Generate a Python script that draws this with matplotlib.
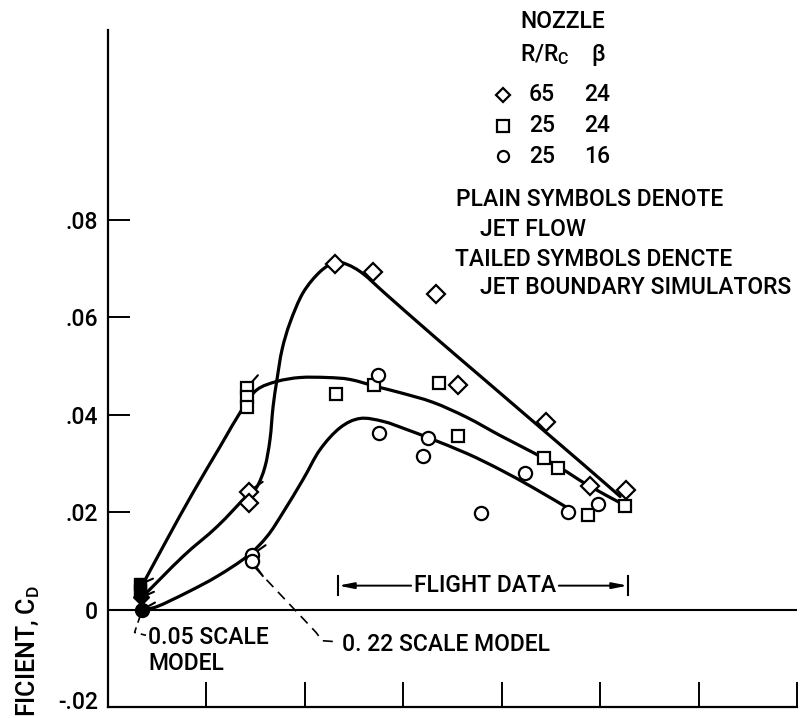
"""Drag coefficient vs. (unlabelled) abscissa - nozzle comparison, flight vs. scale models."""
import matplotlib
matplotlib.use("Agg")
import matplotlib.pyplot as plt
from matplotlib.path import Path
from matplotlib.patches import PathPatch
from matplotlib.transforms import ScaledTranslation

FONT = ["Roboto", "DejaVu Sans"]
plt.rcParams["font.family"] = FONT
plt.rcParams["font.weight"] = "medium"
plt.rcParams["mathtext.fontset"] = "custom"
plt.rcParams["mathtext.rm"] = "Roboto:medium"
plt.rcParams["mathtext.it"] = "Roboto:medium"
FS = 16.5

# ---- data ----
# jet-flow points (plain symbols)
dia_x = [2.31, 2.69, 3.33, 3.56, 4.45, 4.90, 5.26]
dia_y = [0.0708, 0.0693, 0.0648, 0.0460, 0.0384, 0.0254, 0.0246]
sq_x = [2.32, 2.70, 3.36, 3.56, 4.43, 4.57, 4.88, 5.25]
sq_y = [0.0443, 0.0460, 0.0464, 0.0355, 0.0310, 0.0291, 0.0193, 0.0213]
circ_x = [2.74, 2.75, 3.25, 3.20, 3.79, 4.24, 4.67, 4.98]
circ_y = [0.0482, 0.0363, 0.0351, 0.0316, 0.0199, 0.0281, 0.0201, 0.0217]

# jet boundary simulators (tailed symbols), 0.22 scale model
dia22_x = [1.43, 1.43]
dia22_y = [0.0242, 0.0219]
sq22_x = [1.41, 1.41, 1.41]
sq22_y = [0.0455, 0.0437, 0.0416]
circ22_x = [1.46, 1.46]
circ22_y = [0.0112, 0.0100]

# 0.05 scale model (filled, tailed)
dia05_x = [0.34]
dia05_y = [0.0025]
sq05_x = [0.33, 0.33]
sq05_y = [0.0052, 0.0040]
circ05_x = [0.35]
circ05_y = [0.0]

# faired curves
dia_curve_x = [0.356, 0.762, 1.108, 1.423, 1.514, 1.595, 1.646, 1.677, 1.717, 1.768,
               1.850, 1.982, 2.154, 2.307, 2.429, 2.591, 2.835, 3.303, 3.811, 4.319,
               4.827, 5.203]
dia_curve_y = [0.0027, 0.0109, 0.0170, 0.0236, 0.0252, 0.0293, 0.0349, 0.0416, 0.0472, 0.0533,
               0.0589, 0.0650, 0.0693, 0.0712, 0.0708, 0.0689, 0.0645, 0.0562, 0.0474, 0.0386,
               0.0298, 0.0232]
sq_curve_x = [0.335, 0.600, 0.864, 1.138, 1.372, 1.514, 1.717, 1.951, 2.226, 2.459,
              2.734, 2.967, 3.303, 3.648, 3.984, 4.319, 4.593, 4.868, 5.203]
sq_curve_y = [0.0045, 0.0144, 0.0240, 0.0334, 0.0414, 0.0451, 0.0468, 0.0476, 0.0476, 0.0472,
              0.0457, 0.0445, 0.0425, 0.0394, 0.0357, 0.0322, 0.0291, 0.0256, 0.0219]
circ_curve_x = [0.346, 0.498, 0.803, 1.108, 1.413, 1.616, 1.778, 1.982, 2.154, 2.358,
                2.561, 2.795, 3.039, 3.272, 3.648, 3.984, 4.319, 4.665]
circ_curve_y = [0.0, 0.0006, 0.0035, 0.0068, 0.0109, 0.0150, 0.0199, 0.0267, 0.0328, 0.0373,
                0.0392, 0.0386, 0.0369, 0.0351, 0.0320, 0.0287, 0.0250, 0.0209]

yticks = [-0.02, 0, 0.02, 0.04, 0.06, 0.08]
ytick_labels = ["-.02", "0", ".02", ".04", ".06", ".08"]
xticks = [1, 2, 3, 4, 5, 6, 7]

legend_rows = [("D", "65", "24"), ("s", "25", "24"), ("o", "25", "16")]
flight_range = (2.34, 5.28)


def smooth_curve(ax, xs, ys, lw=2.3):
    pts = list(zip(xs, ys))
    pts = [pts[0]] + pts + [pts[-1]]
    verts = [pts[1]]
    codes = [Path.MOVETO]
    for i in range(1, len(pts) - 2):
        p0, p1, p2, p3 = pts[i - 1], pts[i], pts[i + 1], pts[i + 2]
        c1 = (p1[0] + (p2[0] - p0[0]) / 6, p1[1] + (p2[1] - p0[1]) / 6)
        c2 = (p2[0] - (p3[0] - p1[0]) / 6, p2[1] - (p3[1] - p1[1]) / 6)
        verts += [c1, c2, p2]
        codes += [Path.CURVE4] * 3
    ax.add_patch(PathPatch(Path(verts, codes), fill=False, lw=lw, color="black",
                           capstyle="round", joinstyle="round", zorder=2))


def tails(ax, xs, ys, dx=10, dy=7):
    for x, y in zip(xs, ys):
        ax.annotate("", xy=(x, y), xytext=(dx, dy), textcoords="offset points",
                    arrowprops=dict(arrowstyle="-", lw=1.5, color="black",
                                    shrinkA=0, shrinkB=0), zorder=4)


fig = plt.figure(figsize=(8.01, 7.18), dpi=100)
ax = fig.add_axes([108 / 801, 11 / 718, 689 / 801, 677 / 718])
ax.set_xlim(0, 7)
ax.set_ylim(-0.02, 0.1189)

for s in ("top", "right"):
    ax.spines[s].set_visible(False)
for s in ("left", "bottom"):
    ax.spines[s].set_linewidth(1.6)

ax.set_yticks(yticks)
ax.set_yticklabels(ytick_labels)
ax.set_xticks(xticks)
ax.set_xticklabels([])
ax.tick_params(axis="y", direction="in", length=16, width=1.4, pad=7, labelsize=FS)
ax.tick_params(axis="x", direction="in", length=18, width=1.4)
# nudge the bottom label up a little so it stays inside the figure
lab = ax.yaxis.get_major_ticks()[0].label1
lab.set_transform(lab.get_transform() + ScaledTranslation(0, 5 / 72, fig.dpi_scale_trans))

ax.axhline(0, color="black", lw=1.5, zorder=1)

smooth_curve(ax, dia_curve_x, dia_curve_y)
smooth_curve(ax, sq_curve_x, sq_curve_y)
smooth_curve(ax, circ_curve_x, circ_curve_y)

open_kw = dict(ls="none", mfc="white", mec="black", mew=1.6, zorder=5)
ax.plot(dia_x, dia_y, marker="D", ms=9.5, **open_kw)
ax.plot(sq_x, sq_y, marker="s", ms=9, **open_kw)
ax.plot(circ_x, circ_y, marker="o", ms=9.5, **open_kw)

ax.plot(dia22_x, dia22_y, marker="D", ms=9.5, **open_kw)
ax.plot(sq22_x, sq22_y, marker="s", ms=9, **open_kw)
ax.plot(circ22_x, circ22_y, marker="o", ms=9.5, **open_kw)
tails(ax, dia22_x[:1], dia22_y[:1])
tails(ax, sq22_x[:1], sq22_y[:1], dx=8, dy=9)
tails(ax, circ22_x[:1], circ22_y[:1])
tails(ax, circ22_x[1:], circ22_y[1:], dx=8, dy=-11)

fill_kw = dict(ls="none", mfc="black", mec="black", zorder=5)
ax.plot(sq05_x, sq05_y, marker="s", ms=9, **fill_kw)
ax.plot(dia05_x, dia05_y, marker="D", ms=8, **fill_kw)
ax.plot(circ05_x, circ05_y, marker="o", ms=10, **fill_kw)
tails(ax, sq05_x[:1], sq05_y[:1], dx=9, dy=4)
tails(ax, dia05_x, dia05_y, dx=9, dy=4)
tails(ax, circ05_x, circ05_y, dx=9, dy=5)

# flight data bracket
y_fd = 0.0049
ax.text(3.83, y_fd, "FLIGHT DATA", fontsize=FS, ha="center", va="center")
ax.annotate("", xy=(flight_range[0], y_fd), xytext=(3.08, y_fd),
            arrowprops=dict(arrowstyle="-|>,head_length=0.9,head_width=0.18", lw=1.4,
                            color="black", shrinkA=0, shrinkB=0))
ax.annotate("", xy=(flight_range[1], y_fd), xytext=(4.58, y_fd),
            arrowprops=dict(arrowstyle="-|>,head_length=0.9,head_width=0.18", lw=1.4,
                            color="black", shrinkA=0, shrinkB=0))
for xe in flight_range:
    ax.plot([xe, xe], [y_fd - 0.002, y_fd + 0.002], color="black", lw=1.5)

# scale-model callouts
ax.plot([0.325, 0.27, 0.386], [-0.0014, -0.0047, -0.0053], color="black", lw=1.2, ls=(0, (4, 3)))
ax.text(0.41, -0.0084, "0.05 SCALE\nMODEL", fontsize=FS, ha="left", va="center", linespacing=1.2)
ax.plot([1.494, 2.114, 2.175, 2.317], [0.0086, -0.0047, -0.0064, -0.0066],
        color="black", lw=1.2, ls=(0, (6, 4)))
ax.text(2.378, -0.0072, "0. 22 SCALE MODEL", fontsize=FS, ha="left", va="center")

# key
ax.text(4.62, 0.1206, "NOZZLE", fontsize=FS, ha="center", va="center")
ax.text(4.44, 0.1138, r"R/R$_\mathrm{C}$", fontsize=FS, ha="center", va="center")
ax.text(4.98, 0.1138, "\u03b2", fontsize=FS, ha="center", va="center")
for i, (mk, rr, beta) in enumerate(legend_rows):
    yy = 0.1056 - i * 0.0063
    ax.plot([4.01], [yy], marker=mk, ms=7 if mk == "D" else 8, mfc="white", mec="black",
            mew=1.6, clip_on=False)
    ax.text(4.41, yy, rr, fontsize=FS, ha="center", va="center")
    ax.text(4.97, yy, beta, fontsize=FS, ha="center", va="center")
ax.text(3.54, 0.0841, "PLAIN SYMBOLS DENOTE", fontsize=FS, ha="left", va="center")
ax.text(3.78, 0.0779, "JET FLOW", fontsize=FS, ha="left", va="center")
ax.text(3.53, 0.0718, "TAILED SYMBOLS DENCTE", fontsize=FS, ha="left", va="center")
ax.text(3.78, 0.0660, "JET BOUNDARY SIMULATORS", fontsize=FS, ha="left", va="center")

fig.text(0.035, 0.185, r"FICIENT, C$_\mathrm{D}$", fontsize=18, rotation=90,
         ha="center", va="top")

fig.savefig("out.png", dpi=100)
